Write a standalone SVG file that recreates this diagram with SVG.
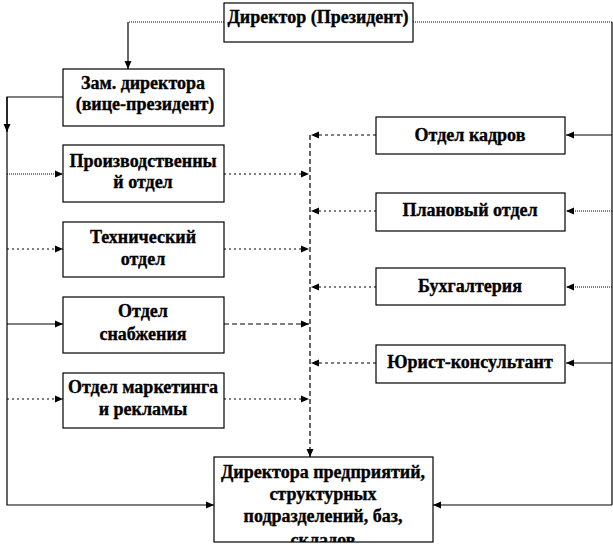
<svg xmlns="http://www.w3.org/2000/svg" width="613" height="546" viewBox="0 0 613 546">
<style>
.box{fill:#fff;stroke:#000;stroke-width:1.2}
.t{font-family:"Liberation Serif","Times New Roman",serif;font-weight:bold;font-size:18px;text-anchor:middle;fill:#000;stroke:#000;stroke-width:0.35}
.c{fill:none;stroke:#000;stroke-width:1.2}
.dot{stroke-dasharray:1,1}
.dot2{stroke-dasharray:2,3}
.dash{stroke-dasharray:5,3}
.dash2{stroke-dasharray:3,3}
</style>
<defs>
<marker id="ah" viewBox="0 0 8 8" refX="8" refY="4" markerWidth="8" markerHeight="8" markerUnits="userSpaceOnUse" orient="auto">
<path d="M0,0.5 L8,4 L0,7.5 Z" fill="#000"/>
</marker>
<clipPath id="bc"><rect x="214" y="457" width="219" height="85"/></clipPath>
</defs>
<rect width="613" height="546" fill="#fff"/>
<g id="connectors">
<path class="c dot" d="M224 22 H128"/>
<path class="c" d="M128 22 V69" marker-end="url(#ah)"/>
<path class="c dot" d="M413 22 H612"/>
<path class="c" d="M612 22 V505"/>
<path class="c" d="M63 97 H7 V505 H214" marker-end="url(#ah)"/>
<path class="c" d="M7 97 V132" marker-end="url(#ah)"/>
<path class="c" d="M612 505 H433" marker-end="url(#ah)"/>
<path class="c dot" d="M7 174 H63" marker-end="url(#ah)"/>
<path class="c dot2" d="M7 249 H63" marker-end="url(#ah)"/>
<path class="c" d="M7 324 H63" marker-end="url(#ah)"/>
<path class="c dot2" d="M7 399 H63" marker-end="url(#ah)"/>
<path class="c dot2" d="M224 174 H309" marker-end="url(#ah)"/>
<path class="c dot2" d="M224 249 H309" marker-end="url(#ah)"/>
<path class="c dash" d="M224 324 H309" marker-end="url(#ah)"/>
<path class="c dot2" d="M224 399 H309" marker-end="url(#ah)"/>
<path class="c dash" d="M310 135 V457" marker-end="url(#ah)"/>
<path class="c dash2" d="M376 135 H311" marker-end="url(#ah)"/>
<path class="c dot2" d="M376 211 H311" marker-end="url(#ah)"/>
<path class="c dot2" d="M376 287 H311" marker-end="url(#ah)"/>
<path class="c dash2" d="M376 363 H311" marker-end="url(#ah)"/>
<path class="c" d="M612 135 H566" marker-end="url(#ah)"/>
<path class="c dot" d="M612 211 H566" marker-end="url(#ah)"/>
<path class="c dot" d="M612 287 H566" marker-end="url(#ah)"/>
<path class="c" d="M612 363 H566" marker-end="url(#ah)"/>
</g>
<g id="director">
<rect class="box" x="224" y="3" width="189" height="39"/>
<text class="t" x="318" y="23">Директор (Президент)</text>
</g>
<g id="zam">
<rect class="box" x="63" y="69" width="161" height="57"/>
<text class="t" x="143" y="89">Зам. директора</text>
<text class="t" x="145" y="110">(вице-президент)</text>
</g>
<g id="prod">
<rect class="box" x="63" y="145" width="161" height="57"/>
<text class="t" x="143" y="167">Производственны</text>
<text class="t" x="143" y="188">й отдел</text>
</g>
<g id="tech">
<rect class="box" x="63" y="222" width="161" height="55"/>
<text class="t" x="143" y="243">Технический</text>
<text class="t" x="143" y="265">отдел</text>
</g>
<g id="supply">
<rect class="box" x="63" y="297" width="161" height="56"/>
<text class="t" x="143" y="317">Отдел</text>
<text class="t" x="143" y="340">снабжения</text>
</g>
<g id="marketing">
<rect class="box" x="63" y="373" width="161" height="55"/>
<text class="t" x="143" y="393">Отдел маркетинга</text>
<text class="t" x="143" y="415">и рекламы</text>
</g>
<g id="hr">
<rect class="box" x="376" y="117" width="189" height="37"/>
<text class="t" x="470" y="141">Отдел кадров</text>
</g>
<g id="planning">
<rect class="box" x="376" y="193" width="189" height="38"/>
<text class="t" x="470" y="216">Плановый отдел</text>
</g>
<g id="accounting">
<rect class="box" x="376" y="268" width="189" height="37"/>
<text class="t" x="470" y="292">Бухгалтерия</text>
</g>
<g id="legal">
<rect class="box" x="376" y="345" width="189" height="38"/>
<text class="t" x="470" y="368">Юрист-консультант</text>
</g>
<g id="directors">
<rect class="box" x="214" y="457" width="219" height="85"/>
<g clip-path="url(#bc)">
<text class="t" x="323" y="478">Директора предприятий,</text>
<text class="t" x="323" y="500">структурных</text>
<text class="t" x="323" y="522">подразделений, баз,</text>
<text class="t" x="323" y="546">складов</text>
</g>
</g>
</svg>
